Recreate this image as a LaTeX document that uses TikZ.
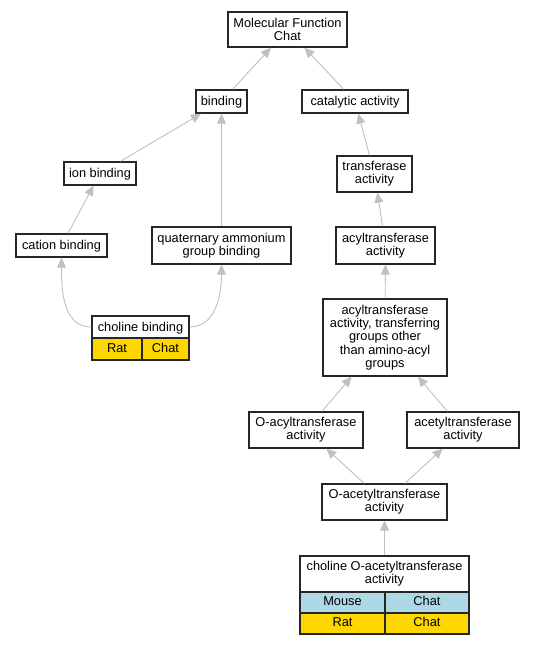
\documentclass[tikz,border=0pt]{standalone}
\usepackage{fontspec}
\setmainfont{Liberation Sans}
\usetikzlibrary{arrows.meta}
\definecolor{edgegray}{RGB}{192,192,192}
\definecolor{ratgold}{RGB}{255,215,0}
\definecolor{mouseblue}{RGB}{173,216,230}
\tikzstyle{box} = [rectangle, draw=black!85, line width=1.3pt, fill=white, inner sep=0pt, font=\fontsize{12.8}{13.3}\selectfont]
\tikzstyle{term} = [box, align=center]
\tikzstyle{oneline} = [box, text height=9.2pt, text depth=0.8pt]
\tikzstyle{ratcell} = [box, fill=ratgold, text height=9.2pt, text depth=2.7pt]
\tikzstyle{mousecell} = [box, fill=mouseblue, text height=9.2pt, text depth=2.7pt]
\tikzstyle{arrow} = [draw=edgegray, line width=0.9pt, -{Triangle[length=10pt,width=9pt]}]

\begin{document}
\begin{tikzpicture}[x=1pt, y=-1pt]
            \useasboundingbox (0,0) rectangle (533,645);
            \node(mf) [term, minimum width=119, minimum height=35] at (287.5,29.5) {Molecular Function\\Chat};
            \node(binding) [oneline, minimum width=51, minimum height=23] at (221.5,101.5) {binding};
            \node(catalytic) [oneline, minimum width=106, minimum height=23] at (355,101.5) {catalytic activity};
            \node(ion) [oneline, minimum width=72, minimum height=23] at (100,173.5) {ion binding};
            \node(transferase) [term, minimum width=75, minimum height=36] at (374.5,174) {transferase\\activity};
            \node(cation) [oneline, minimum width=91, minimum height=23] at (61.5,245.5) {cation binding};
            \node(quat) [term, minimum width=139, minimum height=37] at (221.5,245.5) {quaternary ammonium\\group binding};
            \node(acyl) [term, minimum width=99, minimum height=37] at (385.5,245.5) {acyltransferase\\activity};
            \node(choline) [oneline, minimum width=97, minimum height=22] at (140.5,327) {choline binding};
            \node(cholinerat) [ratcell, minimum width=50, minimum height=22] at (117,349) {Rat};
            \node(cholinechat) [ratcell, minimum width=47, minimum height=22] at (165.5,349) {Chat};
            \node(transferring) [term, minimum width=124, minimum height=77] at (385,337.5) {acyltransferase\\activity, transferring\\groups other\\than amino-acyl\\groups};
            \node(oacyl) [term, minimum width=114, minimum height=36] at (306,430) {O-acyltransferase\\activity};
            \node(acetyl) [term, minimum width=112, minimum height=36] at (463,430) {acetyltransferase\\activity};
            \node(oacetyl) [term, minimum width=125, minimum height=36] at (384.5,502) {O-acetyltransferase\\activity};
            \node(chat) [term, minimum width=169, minimum height=36] at (384.5,574) {choline O-acetyltransferase\\activity};
            \node(chatmouse) [mousecell, minimum width=85, minimum height=21] at (342.5,602.5) {Mouse};
            \node(chatmousegene) [mousecell, minimum width=84, minimum height=21] at (427,602.5) {Chat};
            \node(chatrat) [ratcell, minimum width=85, minimum height=21] at (342.5,623.5) {Rat};
            \node(chatratgene) [ratcell, minimum width=84, minimum height=21] at (427,623.5) {Chat};
            \draw[arrow] (binding) -- (mf);
            \draw[arrow] (catalytic) -- (mf);
            \draw[arrow] (ion) -- (binding);
            \draw[arrow] (quat) -- (binding);
            \draw[arrow] (cation) -- (ion);
            \draw[arrow] (choline.west) to[out=180, in=-90] (cation.south);
            \draw[arrow] (choline.east) to[out=0, in=-90] (quat.south);
            \draw[arrow] (transferase) -- (catalytic);
            \draw[arrow] (acyl) -- (transferase);
            \draw[arrow] (transferring) -- (acyl);
            \draw[arrow] (oacyl) -- (transferring);
            \draw[arrow] (acetyl) -- (transferring);
            \draw[arrow] (oacetyl) -- (oacyl);
            \draw[arrow] (oacetyl) -- (acetyl);
            \draw[arrow] (chat) -- (oacetyl);
        \end{tikzpicture}
\end{document}
